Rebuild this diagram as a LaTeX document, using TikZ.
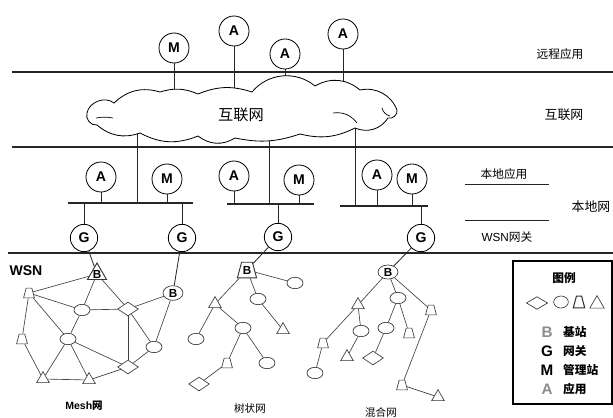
\documentclass[tikz,border=0pt]{standalone}
\usepackage{fontspec}
\setsansfont{Liberation Sans}
\newfontfamily\cjk{Noto Sans CJK SC}
\usetikzlibrary{shapes.geometric}

\begin{document}
\begin{tikzpicture}[
    x=0.03cm, y=-0.03cm,
    every node/.style={inner sep=0pt},
    layer/.style={line width=1.1pt, black!85},
    wire/.style={line width=0.7pt, black!85},
    link/.style={line width=0.55pt, black!75},
    station/.style={circle, draw, line width=0.7pt, minimum size=0.9cm, font=\sffamily\bfseries\fontsize{12}{12}\selectfont},
    gate/.style={station, minimum size=0.82cm},
    sensor/.style={draw, line width=0.55pt, black!80},
    oval/.style={sensor, ellipse, minimum width=0.48cm, minimum height=0.34cm},
    rhomb/.style={sensor, diamond, minimum width=0.62cm, minimum height=0.42cm},
    bucket/.style={sensor, trapezium, trapezium angle=75, inner xsep=2.4pt, inner ysep=4.2pt},
    tri/.style={sensor, regular polygon, regular polygon sides=3, minimum size=0.44cm},
    bmark/.style={font=\sffamily\bfseries\fontsize{10}{10}\selectfont, text=black},
    tag/.style={font=\cjk\fontsize{10}{10}\selectfont},
]
\useasboundingbox (0,0) rectangle (613,417);

% layers
\coordinate (l1w) at (12,72);  \coordinate (l1e) at (613,72);
\coordinate (l2w) at (12,147); \coordinate (l2e) at (613,147);
\coordinate (l3w) at (8,253);  \coordinate (l3e) at (613,253);
\draw[layer] (l1w) -- (l1e);
\draw[layer] (l2w) -- (l2e);
\draw[layer] (l3w) -- (l3e);

% remote applications
\node[station] (rm)  at (174,48) {M};
\node[station] (ra1) at (234,31) {A};
\node[station] (ra2) at (285,54) {A};
\node[station] (ra3) at (343,34) {A};
\coordinate (ccore) at (0,110);
\foreach \n in {rm,ra1,ra2,ra3}
    \draw[wire] (\n) -- (\n |- ccore);

% local buses
\coordinate (b1w) at (68,203);  \coordinate (b1e) at (193,203);
\coordinate (b2w) at (227,204); \coordinate (b2e) at (314,204);
\coordinate (b3w) at (340,206); \coordinate (b3e) at (428,206);
\draw[wire, line width=1pt] (b1w) -- (b1e);
\draw[wire, line width=1pt] (b2w) -- (b2e);
\draw[wire, line width=1pt] (b3w) -- (b3e);

\coordinate (cb1) at (137,122);
\coordinate (cb2) at (269,122);
\coordinate (cb3) at (355,118);
\draw[wire] (cb1) -- (cb1 |- b1w);
\draw[wire] (cb2) -- (cb2 |- b2w);
\draw[wire] (cb3) -- (cb3 |- b3w);

% cloud
\draw[line width=0.7pt, fill=white]
    (87,113) to[bend left=60] (114,103) to[bend left=30] (160,92)
    to[bend left=20] (198,94) to[bend left=20] (252,92)
    to[bend left=45] (315,86) to[bend left=35] (360,90)
    to[bend left=40] (397,110) to[bend left=60] (388,118)
    to[bend left=40] (355,128) to[bend left=20] (300,134)
    to[bend left=15] (235,138) to[bend left=35] (198,136)
    to[bend left=25] (140,133) to[bend left=30] (97,125)
    to[bend left=60] (87,113) -- cycle;
\draw[line width=0.6pt] (96,118) to[bend left=10] (113,118);
\draw[line width=0.6pt] (333,113) to[bend left=30] (357,123);
\draw[line width=0.6pt] (382,108) to[bend right=30] (390,116);
\node[font=\cjk\fontsize{13}{13}\selectfont] (cnet) at (241,115) {互联网};

% local applications
\node[station] (la1) at (101,177) {A};
\node[station] (lm1) at (167,179) {M};
\node[station] (la2) at (234,176) {A};
\node[station] (lm2) at (299,180) {M};
\node[station] (la3) at (377,175) {A};
\node[station] (lm3) at (412,179) {M};
\foreach \n/\b in {la1/b1w,lm1/b1w,la2/b2w,lm2/b2w,la3/b3w,lm3/b3w}
    \draw[wire] (\n) -- (\n |- \b);

% gateways
\node[gate] (g1) at (84,238) {G};
\node[gate] (g2) at (182,238) {G};
\node[gate] (g3) at (278,237) {G};
\node[gate] (g4) at (421,238) {G};
\foreach \n/\b in {g1/b1w,g2/b1w,g3/b2w,g4/b3w}
    \draw[wire] (\n |- \b) -- (\n);

% layer labels
\node[tag] (tRem) at (560,54) {远程应用};
\node[tag, font=\cjk\fontsize{11}{11}\selectfont] (tNet) at (564,115) {互联网};
\node[tag] (tLa) at (504,174) {本地应用};
\node[tag, font=\cjk\fontsize{11}{11}\selectfont] (tLn) at (591,207) {本地网};
\node[tag] (tGw) at (507,237) {\sffamily WSN\cjk 网关};
\coordinate (s1w) at (465,184); \coordinate (s1e) at (549,184);
\coordinate (s2w) at (465,220); \coordinate (s2e) at (549,220);
\draw[wire, line width=0.5pt] (s1w) -- (s1e);
\draw[wire, line width=0.5pt] (s2w) -- (s2e);

% WSN: mesh
\node[font=\sffamily\bfseries\fontsize{12}{12}\selectfont] (wsn) at (26,271) {WSN};
\node[tri, minimum size=0.66cm, line width=0.8pt, label={[bmark]center:B}] (mB) at (97,274) {};
\node[bucket] (mT1) at (29,293) {};
\node[oval] (mE1) at (82,310) {};
\node[rhomb] (mD1) at (128,309) {};
\node[oval, bmark, minimum width=0.6cm, minimum height=0.44cm] (mB2) at (173,293) {B};
\node[bucket] (mT2) at (22,339) {};
\node[oval] (mE2) at (68,339) {};
\node[oval] (mE3) at (154,347) {};
\node[rhomb] (mD2) at (128,367) {};
\node[tri] (mR1) at (43,379) {};
\node[tri] (mR2) at (89,380) {};
\foreach \a/\b in {mB/mT1,mB/mE1,mB/mD1,mT1/mE1,mT1/mE2,mT1/mT2,mE1/mD1,mE1/mE2,
    mD1/mB2,mD1/mD2,mD1/mE3,mB2/mE3,mE3/mD2,mE2/mD2,mE2/mR1,mE2/mR2,mT2/mR1,mR1/mR2,mR2/mD2}
    \draw[link] (\a) -- (\b);
\node[font=\sffamily\bfseries\fontsize{9}{9}\selectfont] (meshT) at (84,406) {Mesh{\cjk 网}};

% WSN: tree
\node[bucket, bmark, line width=0.8pt, inner xsep=1pt, inner ysep=3.2pt] (tB) at (247,270) {B};
\node[oval] (tE1) at (295,283) {};
\node[oval] (tE2) at (258,299) {};
\node[tri] (tR1) at (215,304) {};
\node[tri] (tR2) at (283,330) {};
\node[oval] (tE3) at (243,328) {};
\node[oval] (tE4) at (196,339) {};
\node[bucket] (tT1) at (227,363) {};
\node[oval] (tE5) at (267,363) {};
\node[rhomb] (tD1) at (199,384) {};
\foreach \a/\b in {tB/tE1,tB/tE2,tB/tR1,tR1/tE4,tR1/tE3,tE2/tR2,tE3/tT1,tE3/tE5,tT1/tD1}
    \draw[link] (\a) -- (\b);
\node[tag, font=\cjk\fontsize{9}{9}\selectfont] (treeT) at (250,408) {树状网};

% WSN: mixed
\node[oval, bmark, minimum width=0.6cm, minimum height=0.42cm] (xB) at (388,272) {B};
\node[tri] (xR1) at (358,305) {};
\node[oval] (xE1) at (398,298) {};
\node[bucket] (xT1) at (431,310) {};
\node[oval] (xE2) at (361,331) {};
\node[oval] (xE3) at (386,328) {};
\node[bucket] (xT2) at (409,333) {};
\node[bucket] (xT3) at (323,343) {};
\node[tri] (xR2) at (347,357) {};
\node[rhomb] (xD1) at (373,358) {};
\node[oval] (xE4) at (315,373) {};
\node[bucket] (xT4) at (402,385) {};
\node[tri] (xR3) at (438,397) {};
\foreach \a/\b in {xB/xR1,xB/xE1,xB/xT1,xR1/xT3,xR1/xE2,xE2/xR2,xT3/xE4,xE1/xE3,xE1/xT2,xE3/xD1,xT1/xT4,xT4/xR3}
    \draw[link] (\a) -- (\b);
\node[tag, font=\cjk\fontsize{9}{9}\selectfont] (mixT) at (381,412) {混合网};

\draw[wire] (g1) -- (mB);
\draw[wire] (g2) -- (mB2);
\draw[wire] (g3) -- (tB);
\draw[wire] (g4) -- (xB);

% legend
\node[draw, line width=0.9pt, minimum width=2.97cm, minimum height=4.29cm] (legend) at (562.5,332.5) {};
\node[font=\cjk\bfseries\fontsize{10}{10}\selectfont] (lgTitle) at (564,278) {图例};
\node[rhomb, minimum width=0.64cm, minimum height=0.38cm] (lgD) at (537,303) {};
\node[oval, minimum width=0.44cm, minimum height=0.36cm] (lgE) at (561,302) {};
\node[bucket, line width=0.9pt, inner xsep=2.2pt, inner ysep=5pt] (lgT) at (579,302) {};
\node[tri, minimum size=0.5cm] (lgR) at (597,304) {};
\foreach \l/\c/\t/\y in {B/black!45/基站/332, G/black/网关/351, M/black/管理站/370, A/black!45/应用/389} {
    \node[font=\sffamily\bfseries\fontsize{13}{13}\selectfont, text=\c] (lg\l) at (547,\y) {\l};
    \node[tag, font=\cjk\bfseries\fontsize{10}{10}\selectfont, anchor=west] (lg\l t) at (563,\y) {\t};
}
\end{tikzpicture}
\end{document}
